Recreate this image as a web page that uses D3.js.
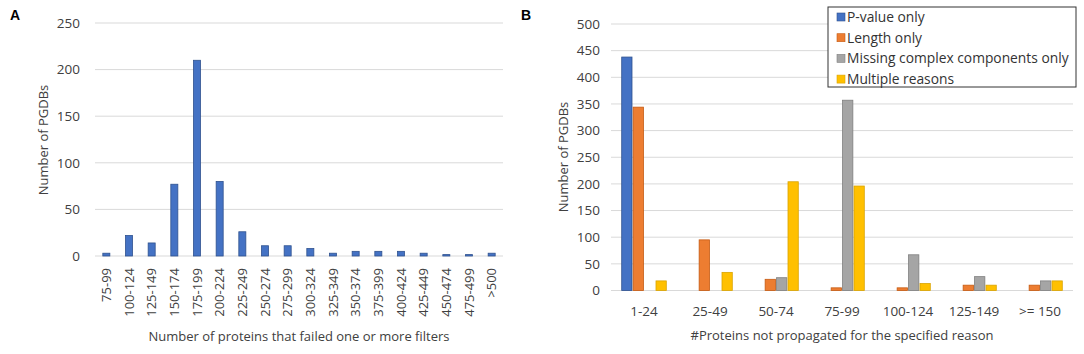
<!DOCTYPE html>
<html>
<head>
<meta charset="utf-8">
<script src="https://cdn.jsdelivr.net/npm/d3@7"></script>
<style>
  body { margin: 0; background: #fff; }
  text { font-family: "Open Sans", "Noto Sans", sans-serif; fill: #404040; }
</style>
</head>
<body>
<div id="chart"></div>
<script>
// Panel A data
const rangesA = ["75-99", "100-124", "125-149", "150-174", "175-199", "200-224", "225-249",
    "250-274", "275-299", "300-324", "325-349", "350-374", "375-399", "400-424",
    "425-449", "450-474", "475-499", ">500"];
const countsA = [3, 22, 14, 77, 210, 80, 26, 11, 11, 8, 3, 5, 5, 5, 3, 1.5, 1.5, 3];
const ticksA = [0, 50, 100, 150, 200, 250];

// Panel B data
const rangesB = ["1-24", "25-49", "50-74", "75-99", "100-124", "125-149", ">= 150"];
const reasons = ["P-value only", "Length only", "Missing complex components only", "Multiple reasons"];
const pvalueOnly = [438, 0, 0, 0, 0, 0, 0];
const lengthOnly = [344, 95, 21, 5, 5, 10, 10];
const missingOnly = [0, 0, 24, 357, 67, 26, 18];
const multipleReasons = [18, 34, 204, 196, 13, 10, 18];
const ticksB = [0, 50, 100, 150, 200, 250, 300, 350, 400, 450, 500];

const colors = ["#4472C4", "#ED7D31", "#A5A5A5", "#FFC000"];
const strokes = ["#2F528F", "#C55A11", "#7F7F7F", "#D9A300"];

const svg = d3.select("#chart")
    .append("svg")
    .attr("width", 1084)
    .attr("height", 354);

// ---------- Panel A ----------
const xA = d3.scaleBand().domain(rangesA).range([95, 503]).paddingInner(0.69).paddingOuter(0.345);
const yA = d3.scaleLinear().domain([0, 250]).range([256, 23]);

const gA = svg.append("g");

// Gitterlinien
gA.selectAll("line.grid")
    .data(ticksA)
    .enter()
    .append("line")
    .attr("x1", 95).attr("x2", 503)
    .attr("y1", d => yA(d)).attr("y2", d => yA(d))
    .attr("stroke", "#d9d9d9")
    .attr("stroke-width", 1);

gA.selectAll("text.ytick")
    .data(ticksA)
    .enter()
    .append("text")
    .attr("x", 80)
    .attr("y", d => yA(d))
    .attr("dy", "0.35em")
    .attr("text-anchor", "end")
    .style("font-size", "13.5px")
    .text(d => d);

gA.selectAll("rect")
    .data(countsA)
    .enter()
    .append("rect")
    .attr("x", (d, i) => xA(rangesA[i]))
    .attr("y", d => yA(d))
    .attr("width", xA.bandwidth())
    .attr("height", d => yA(0) - yA(d))
    .attr("fill", colors[0])
    .attr("stroke", strokes[0])
    .attr("stroke-width", 0.8);

// rotated category labels
gA.selectAll("text.xtick")
    .data(rangesA)
    .enter()
    .append("text")
    .attr("transform", d => `translate(${xA(d) + xA.bandwidth() / 2},268) rotate(-90)`)
    .attr("dy", "0.35em")
    .attr("text-anchor", "end")
    .style("font-size", "13px")
    .text(d => d);

gA.append("text")
    .attr("x", 299)
    .attr("y", 341)
    .attr("text-anchor", "middle")
    .style("font-size", "13px")
    .text("Number of proteins that failed one or more filters");

gA.append("text")
    .attr("transform", "translate(43,140) rotate(-90)")
    .attr("dy", "0.35em")
    .attr("text-anchor", "middle")
    .style("font-size", "13px")
    .text("Number of PGDBs");

svg.append("text")
    .attr("x", 10)
    .attr("y", 20)
    .style("font-family", "Liberation Sans, Arial, sans-serif")
    .style("font-size", "14px")
    .style("font-weight", "bold")
    .style("fill", "#000")
    .text("A");

// ---------- Panel B ----------
const seriesB = [pvalueOnly, lengthOnly, missingOnly, multipleReasons];
const xB = d3.scaleBand().domain(rangesB).range([611, 1073]).paddingInner(0.29).paddingOuter(0.145);
const xSub = d3.scaleBand().domain(d3.range(reasons.length)).range([0, xB.bandwidth()]).padding(0.1);
const yB = d3.scaleLinear().domain([0, 500]).range([290.5, 24]);

const gB = svg.append("g");

gB.selectAll("line.grid")
    .data(ticksB)
    .enter()
    .append("line")
    .attr("x1", 611).attr("x2", 1073)
    .attr("y1", d => yB(d)).attr("y2", d => yB(d))
    .attr("stroke", "#d9d9d9")
    .attr("stroke-width", 1);

gB.selectAll("text.ytick")
    .data(ticksB)
    .enter()
    .append("text")
    .attr("x", 600)
    .attr("y", d => yB(d))
    .attr("dy", "0.35em")
    .attr("text-anchor", "end")
    .style("font-size", "13.5px")
    .text(d => d);

// one group per reason, zero values are skipped
seriesB.forEach((values, s) => {
    const pts = values.map((v, i) => ({ cat: rangesB[i], v: v })).filter(d => d.v > 0);
    gB.append("g")
        .selectAll("rect")
        .data(pts)
        .enter()
        .append("rect")
        .attr("x", d => xB(d.cat) + xSub(s))
        .attr("y", d => yB(d.v))
        .attr("width", xSub.bandwidth())
        .attr("height", d => yB(0) - yB(d.v))
        .attr("fill", colors[s])
        .attr("stroke", strokes[s])
        .attr("stroke-width", 0.8);
});

gB.selectAll("text.xtick")
    .data(rangesB)
    .enter()
    .append("text")
    .attr("x", d => xB(d) + xB.bandwidth() / 2)
    .attr("y", 316)
    .attr("text-anchor", "middle")
    .style("font-size", "13.5px")
    .text(d => d);

gB.append("text")
    .attr("x", 842)
    .attr("y", 340)
    .attr("text-anchor", "middle")
    .style("font-size", "13px")
    .text("#Proteins not propagated for the specified reason");

gB.append("text")
    .attr("transform", "translate(563,157) rotate(-90)")
    .attr("dy", "0.35em")
    .attr("text-anchor", "middle")
    .style("font-size", "13px")
    .text("Number of PGDBs");

svg.append("text")
    .attr("x", 521)
    .attr("y", 20)
    .style("font-family", "Liberation Sans, Arial, sans-serif")
    .style("font-size", "14px")
    .style("font-weight", "bold")
    .style("fill", "#000")
    .text("B");

// Legende
const legend = gB.append("g").attr("transform", "translate(828,7)");
legend.append("rect")
    .attr("width", 248)
    .attr("height", 80)
    .attr("fill", "#fff")
    .attr("stroke", "#333")
    .attr("stroke-width", 1);

const items = legend.selectAll("g.item")
    .data(reasons)
    .enter()
    .append("g")
    .attr("transform", (d, i) => `translate(9,${10 + i * 20.7})`);

items.append("rect")
    .attr("x", 0)
    .attr("y", -4)
    .attr("width", 8)
    .attr("height", 8)
    .attr("fill", (d, i) => colors[i])
    .attr("stroke", (d, i) => strokes[i])
    .attr("stroke-width", 0.6);

items.append("text")
    .attr("x", 10)
    .attr("dy", "0.35em")
    .style("font-size", "13.8px")
    .style("fill", "#333")
    .text(d => d);
</script>
</body>
</html>
